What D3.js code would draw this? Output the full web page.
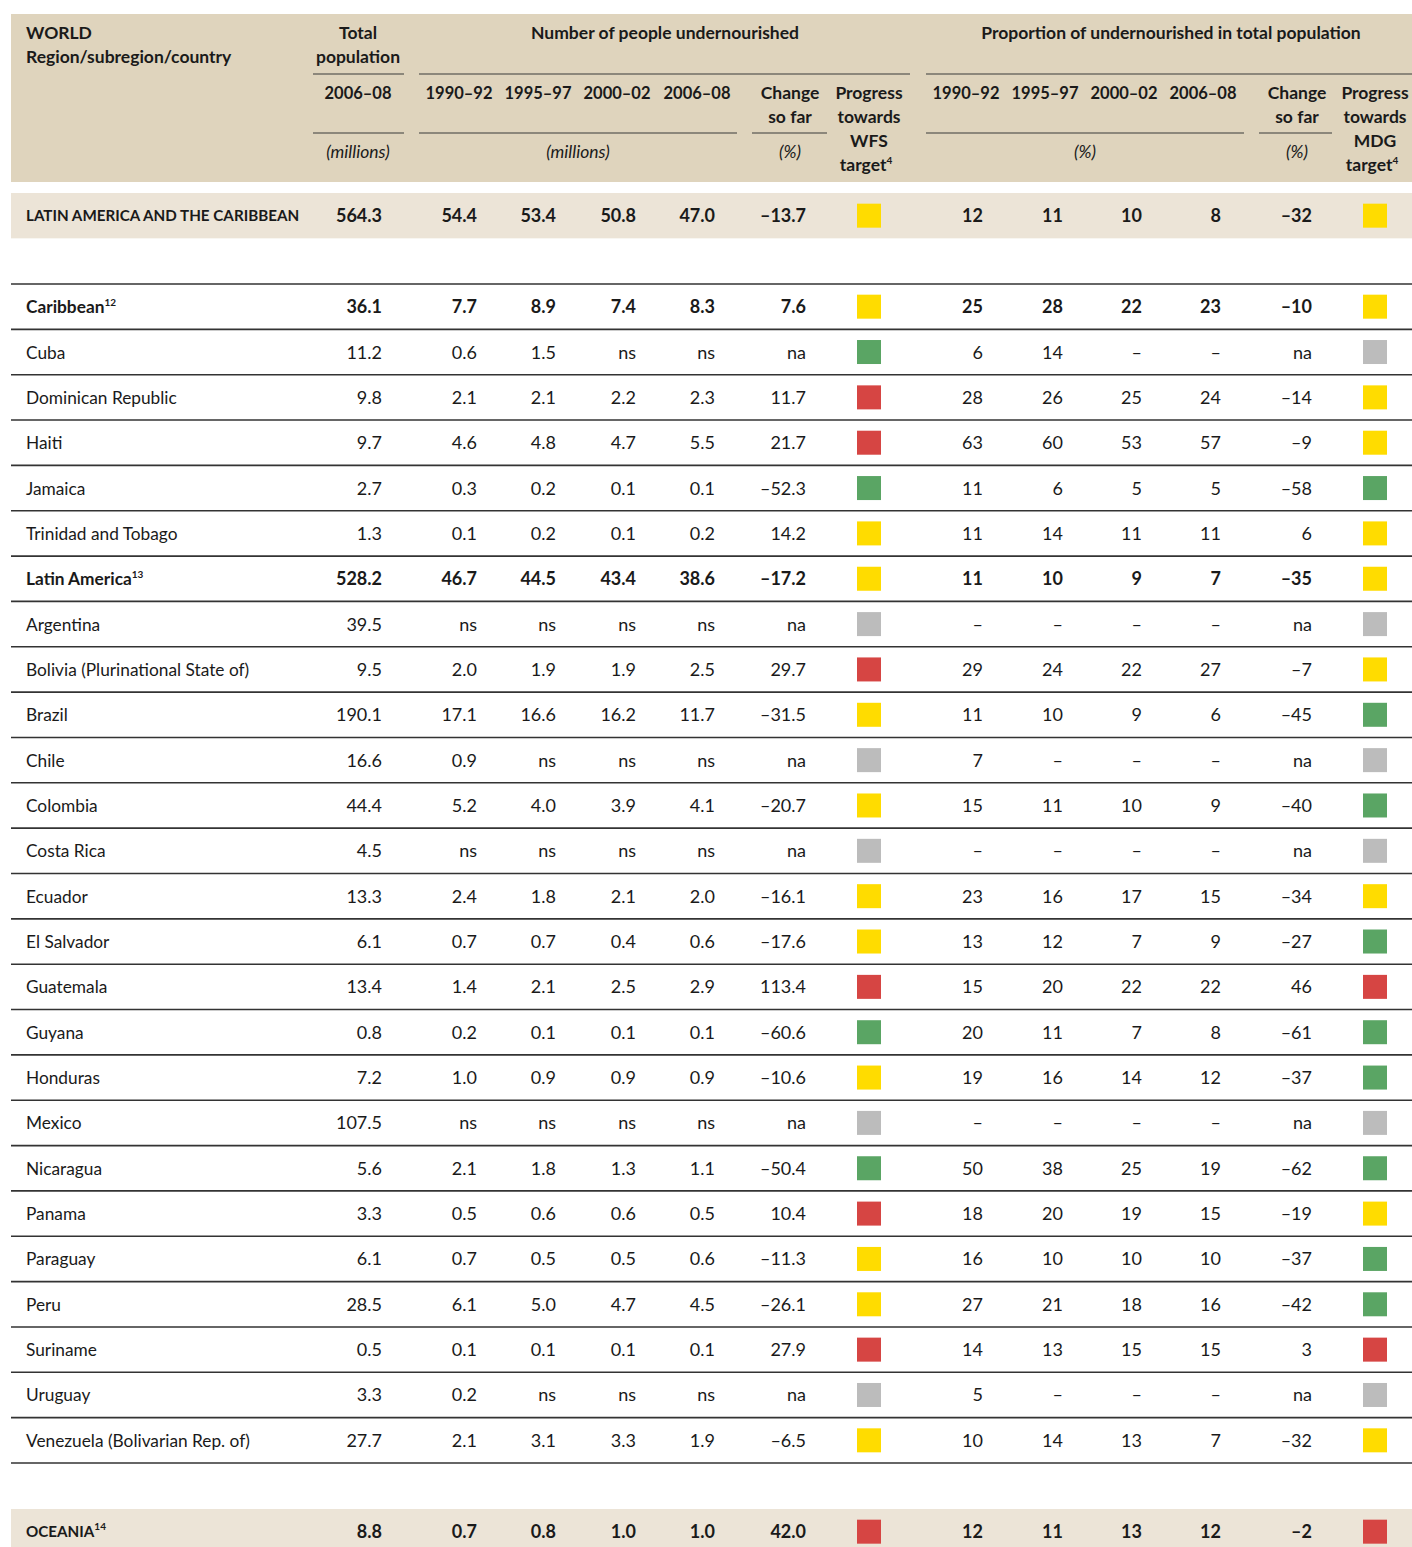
<!DOCTYPE html>
<html>
<head>
<meta charset="utf-8">
<script src="https://cdn.jsdelivr.net/npm/d3@7"></script>
<style>
body { margin: 0; background: #fff; }
svg { display: block; }
text { font-family: Lato, "Open Sans", sans-serif; fill: #1a1a1a; }
</style>
</head>
<body>
<svg width="1412" height="1547"></svg>
<script>
// rows, top to bottom
var rowNames = ["LATIN AMERICA AND THE CARIBBEAN", "Caribbean", "Cuba", "Dominican Republic", "Haiti", "Jamaica",
	"Trinidad and Tobago", "Latin America", "Argentina", "Bolivia (Plurinational State of)", "Brazil", "Chile",
	"Colombia", "Costa Rica", "Ecuador", "El Salvador", "Guatemala", "Guyana", "Honduras", "Mexico", "Nicaragua",
	"Panama", "Paraguay", "Peru", "Suriname", "Uruguay", "Venezuela (Bolivarian Rep. of)", "OCEANIA"];
var rowNotes = ["", "12", "", "", "", "", "", "13", "", "", "", "", "", "", "", "", "", "", "", "", "", "", "", "", "", "", "", "14"];
var rowKinds = ["region", "sub", "c", "c", "c", "c", "c", "sub", "c", "c", "c", "c", "c", "c", "c", "c", "c", "c",
	"c", "c", "c", "c", "c", "c", "c", "c", "c", "region"];

// total population 2006-08 (millions)
var population = [564.3, 36.1, 11.2, 9.8, 9.7, 2.7, 1.3, 528.2, 39.5, 9.5, 190.1, 16.6, 44.4, 4.5, 13.3, 6.1, 13.4,
	0.8, 7.2, 107.5, 5.6, 3.3, 6.1, 28.5, 0.5, 3.3, 27.7, 8.8];

// number of people undernourished (millions)
var und9092 = [54.4, 7.7, 0.6, 2.1, 4.6, 0.3, 0.1, 46.7, "ns", 2.0, 17.1, 0.9, 5.2, "ns", 2.4, 0.7, 1.4, 0.2, 1.0, "ns", 2.1, 0.5, 0.7, 6.1, 0.1, 0.2, 2.1, 0.7];
var und9597 = [53.4, 8.9, 1.5, 2.1, 4.8, 0.2, 0.2, 44.5, "ns", 1.9, 16.6, "ns", 4.0, "ns", 1.8, 0.7, 2.1, 0.1, 0.9, "ns", 1.8, 0.6, 0.5, 5.0, 0.1, "ns", 3.1, 0.8];
var und0002 = [50.8, 7.4, "ns", 2.2, 4.7, 0.1, 0.1, 43.4, "ns", 1.9, 16.2, "ns", 3.9, "ns", 2.1, 0.4, 2.5, 0.1, 0.9, "ns", 1.3, 0.6, 0.5, 4.7, 0.1, "ns", 3.3, 1.0];
var und0608 = [47.0, 8.3, "ns", 2.3, 5.5, 0.1, 0.2, 38.6, "ns", 2.5, 11.7, "ns", 4.1, "ns", 2.0, 0.6, 2.9, 0.1, 0.9, "ns", 1.1, 0.5, 0.6, 4.5, 0.1, "ns", 1.9, 1.0];
var undChange = [-13.7, 7.6, "na", 11.7, 21.7, -52.3, 14.2, -17.2, "na", 29.7, -31.5, "na", -20.7, "na", -16.1, -17.6, 113.4, -60.6, -10.6, "na", -50.4, 10.4, -11.3, -26.1, 27.9, "na", -6.5, 42.0];
var wfsProgress = ["y", "y", "g", "r", "r", "g", "y", "y", "n", "r", "y", "n", "y", "n", "y", "y", "r", "g", "y", "n", "g", "r", "y", "y", "r", "n", "y", "r"];

// proportion of undernourished in total population (%)
var prop9092 = [12, 25, 6, 28, 63, 11, 11, 11, null, 29, 11, 7, 15, null, 23, 13, 15, 20, 19, null, 50, 18, 16, 27, 14, 5, 10, 12];
var prop9597 = [11, 28, 14, 26, 60, 6, 14, 10, null, 24, 10, null, 11, null, 16, 12, 20, 11, 16, null, 38, 20, 10, 21, 13, null, 14, 11];
var prop0002 = [10, 22, null, 25, 53, 5, 11, 9, null, 22, 9, null, 10, null, 17, 7, 22, 7, 14, null, 25, 19, 10, 18, 15, null, 13, 13];
var prop0608 = [8, 23, null, 24, 57, 5, 11, 7, null, 27, 6, null, 9, null, 15, 9, 22, 8, 12, null, 19, 15, 10, 16, 15, null, 7, 12];
var propChange = [-32, -10, "na", -14, -9, -58, 6, -35, "na", -7, -45, "na", -40, "na", -34, -27, 46, -61, -37, "na", -62, -19, -37, -42, 3, "na", -32, -2];
var mdgProgress = ["y", "y", "n", "y", "y", "g", "y", "y", "n", "y", "g", "n", "g", "n", "y", "g", "r", "g", "g", "n", "g", "y", "g", "g", "r", "n", "y", "r"];

var W = 1412;
var svg = d3.select('svg');
var loc = d3.formatLocale({decimal: ".", thousands: ",", grouping: [3], currency: ["", ""], minus: "\u2013"});
var f1 = loc.format(".1f"), f0 = loc.format("d");

var progressColor = d3.scaleOrdinal().domain(["y", "g", "r", "n"])
	.range(["#ffdc00", "#5aa564", "#d64543", "#bcbcbc"]);

// vertical layout: body rows on a band scale, region rows on shaded bands
var bodyRows = rowNames.filter(function(d, i) {return rowKinds[i] != "region"});
var yBody = d3.scaleBand().domain(bodyRows).range([284, 1463]);
var yRegion = d3.scaleOrdinal().domain(["LATIN AMERICA AND THE CARIBBEAN", "OCEANIA"]).range([193, 1509]);
function rowTop(name, i) {return rowKinds[i] == "region" ? yRegion(name) : yBody(name);}
var rowH = yBody.bandwidth();

// columns: right edge for numbers, centre for squares
var colKeys = ["pop", "u1", "u2", "u3", "u4", "uc", "wfs", "p1", "p2", "p3", "p4", "pc", "mdg"];
var colX = d3.scaleOrdinal().domain(colKeys)
	.range([382, 477, 556, 636, 715, 806, 869, 983, 1063, 1142, 1221, 1312, 1375]);

function fmtWith(f) {
	return function(v) {return v === null ? "\u2013" : (typeof v == "string" ? v : f(v));};
}
var columns = [
	{key: "pop", values: population, fmt: fmtWith(f1)},
	{key: "u1", values: und9092, fmt: fmtWith(f1)},
	{key: "u2", values: und9597, fmt: fmtWith(f1)},
	{key: "u3", values: und0002, fmt: fmtWith(f1)},
	{key: "u4", values: und0608, fmt: fmtWith(f1)},
	{key: "uc", values: undChange, fmt: fmtWith(f1)},
	{key: "p1", values: prop9092, fmt: fmtWith(f0)},
	{key: "p2", values: prop9597, fmt: fmtWith(f0)},
	{key: "p3", values: prop0002, fmt: fmtWith(f0)},
	{key: "p4", values: prop0608, fmt: fmtWith(f0)},
	{key: "pc", values: propChange, fmt: fmtWith(f0)}
];

// header background and region bands
svg.append('rect').attr('x', 11).attr('y', 14).attr('width', W - 11).attr('height', 168).attr('fill', '#dfd4bd');
svg.selectAll('rect.band').data(yRegion.domain()).enter().append('rect')
	.attr('class', 'band')
	.attr('x', 11).attr('y', function(d) {return yRegion(d)})
	.attr('width', W - 11).attr('height', rowH)
	.attr('fill', '#ece4d7');

// header texts (yr = year label, slightly smaller)
var headerTexts = [
	{t: "WORLD", x: 26, y: 39, a: "start"},
	{t: "Region/subregion/country", x: 26, y: 63, a: "start"},
	{t: "Total", x: 358, y: 39}, {t: "population", x: 358, y: 63},
	{t: "Number of people undernourished", x: 665, y: 39},
	{t: "Proportion of undernourished in total population", x: 1171, y: 39},
	{t: "2006\u201308", x: 358, y: 99, yr: true},
	{t: "1990\u201392", x: 459, y: 99, yr: true}, {t: "1995\u201397", x: 538, y: 99, yr: true},
	{t: "2000\u201302", x: 617, y: 99, yr: true}, {t: "2006\u201308", x: 697, y: 99, yr: true},
	{t: "Change", x: 790, y: 99}, {t: "so far", x: 790, y: 123},
	{t: "Progress", x: 869, y: 99}, {t: "towards", x: 869, y: 123}, {t: "WFS", x: 869, y: 147}, {t: "target", x: 869, y: 171, sup: "4"},
	{t: "1990\u201392", x: 966, y: 99, yr: true}, {t: "1995\u201397", x: 1045, y: 99, yr: true},
	{t: "2000\u201302", x: 1124, y: 99, yr: true}, {t: "2006\u201308", x: 1203, y: 99, yr: true},
	{t: "Change", x: 1297, y: 99}, {t: "so far", x: 1297, y: 123},
	{t: "Progress", x: 1375, y: 99}, {t: "towards", x: 1375, y: 123}, {t: "MDG", x: 1375, y: 147}, {t: "target", x: 1375, y: 171, sup: "4"},
	{t: "(millions)", x: 358, y: 158, it: true}, {t: "(millions)", x: 578, y: 158, it: true},
	{t: "(%)", x: 790, y: 158, it: true}, {t: "(%)", x: 1085, y: 158, it: true}, {t: "(%)", x: 1297, y: 158, it: true}
];
var ht = svg.selectAll('text.head').data(headerTexts).enter().append('text')
	.attr('class', 'head')
	.attr('x', function(d) {return d.sup ? d.x - 3 : d.x})
	.attr('y', function(d) {return d.y})
	.attr('text-anchor', function(d) {return d.a || "middle"})
	.attr('font-size', function(d) {return d.yr ? 16.5 : 17.5})
	.attr('font-weight', function(d) {return d.it ? 400 : 700})
	.attr('font-style', function(d) {return d.it ? "italic" : "normal"})
	.text(function(d) {return d.t});
ht.filter(function(d) {return d.sup}).append('tspan')
	.attr('font-size', 10).attr('dy', -7).text(function(d) {return d.sup});

// header rules
var headerRules = [
	[313, 404, 74], [419, 910, 74], [926, W, 74],
	[313, 404, 133], [419, 737, 133], [752, 827, 133], [926, 1244, 133], [1259, 1332, 133]
];
svg.selectAll('line.hrule').data(headerRules).enter().append('line')
	.attr('class', 'hrule')
	.attr('x1', function(d) {return d[0]}).attr('x2', function(d) {return d[1]})
	.attr('y1', function(d) {return d[2]}).attr('y2', function(d) {return d[2]})
	.attr('stroke', '#3a3a3a').attr('stroke-width', 1.2);

// body row rules
var ruleYs = [yBody.range()[0]].concat(bodyRows.map(function(d) {return yBody(d) + rowH}));
svg.selectAll('line.rrule').data(ruleYs).enter().append('line')
	.attr('class', 'rrule')
	.attr('x1', 11).attr('x2', W)
	.attr('y1', function(d) {return d}).attr('y2', function(d) {return d})
	.attr('stroke', '#333').attr('stroke-width', 1.6);

// row groups
var rows = svg.selectAll('g.row').data(rowNames).enter().append('g')
	.attr('class', 'row')
	.attr('transform', function(d, i) {return 'translate(0,' + (rowTop(d, i) + rowH / 2) + ')'});

function isBold(i) {return rowKinds[i] != "c";}

var names = rows.append('text')
	.attr('x', 26).attr('y', function(d, i) {return rowKinds[i] == "region" ? 5.5 : 6.5})
	.attr('font-size', function(d, i) {return rowKinds[i] == "region" ? 15.2 : 17.3})
	.attr('font-weight', function(d, i) {return isBold(i) ? 700 : 400})
	.text(function(d) {return d});
names.filter(function(d, i) {return rowNotes[i]}).append('tspan')
	.attr('font-size', 10).attr('dy', -7)
	.text(function(d) {return rowNotes[rowNames.indexOf(d)]});

columns.forEach(function(col) {
	rows.append('text')
		.attr('x', colX(col.key)).attr('y', 6.5)
		.attr('text-anchor', 'end')
		.attr('font-size', 18)
		.attr('font-weight', function(d, i) {return isBold(i) ? 700 : 400})
		.text(function(d, i) {return col.fmt(col.values[i])});
});

[["wfs", wfsProgress], ["mdg", mdgProgress]].forEach(function(p) {
	rows.append('rect')
		.attr('x', colX(p[0]) - 12).attr('y', -12)
		.attr('width', 24).attr('height', 24)
		.attr('fill', function(d, i) {return progressColor(p[1][i])});
});
</script>
</body>
</html>
